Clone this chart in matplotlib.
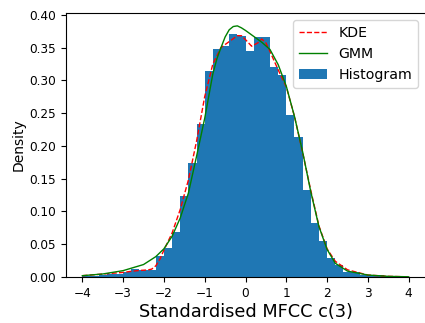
import numpy as np
import matplotlib
matplotlib.use("Agg")
import matplotlib.pyplot as plt

# histogram bins (left edges, width 0.2) and densities
bin_left = [-4.0, -3.8, -3.6, -3.4, -3.2, -3.0, -2.8, -2.6, -2.4, -2.2,
            -2.0, -1.8, -1.6, -1.4, -1.2, -1.0, -0.8, -0.6, -0.4, -0.2,
            0.0, 0.2, 0.4, 0.6, 0.8, 1.0, 1.2, 1.4, 1.6, 1.8,
            2.0, 2.2, 2.4, 2.6, 2.8, 3.0, 3.2, 3.4]
hist_density = [0.002, 0.002, 0.003, 0.004, 0.005, 0.007, 0.012, 0.011, 0.011, 0.032,
                0.044, 0.068, 0.123, 0.174, 0.233, 0.314, 0.347, 0.353, 0.371, 0.368,
                0.344, 0.366, 0.366, 0.321, 0.308, 0.247, 0.214, 0.133, 0.083, 0.055,
                0.029, 0.019, 0.008, 0.008, 0.003, 0.0025, 0.0025, 0.001]
bin_width = 0.2

# KDE curve
kde_x = [-4.0, -3.5, -3.0, -2.8, -2.6, -2.4, -2.3, -2.2, -2.1, -2.0, -1.8, -1.6,
         -1.4, -1.2, -1.0, -0.8, -0.6, -0.4, -0.2, -0.1, 0.0, 0.15, 0.3, 0.4,
         0.5, 0.6, 0.8, 1.0, 1.2, 1.4, 1.6, 1.8, 2.0, 2.2, 2.5, 3.0, 3.5, 4.0]
kde_y = [0.002, 0.0045, 0.007, 0.0087, 0.010, 0.0107, 0.012, 0.017, 0.027, 0.041, 0.067, 0.103,
         0.148, 0.207, 0.275, 0.325, 0.350, 0.359, 0.368, 0.368, 0.362, 0.352, 0.357, 0.363,
         0.357, 0.344, 0.316, 0.290, 0.245, 0.190, 0.132, 0.078, 0.043, 0.024, 0.011, 0.003, 0.001, 0.0003]

# GMM curve
gmm_x = [-4.0, -3.5, -3.0, -2.5, -2.2, -2.0, -1.8, -1.6, -1.4, -1.2, -1.0, -0.8,
         -0.7, -0.6, -0.5, -0.4, -0.3, -0.2, -0.1, 0.0, 0.2, 0.4, 0.6, 0.8,
         1.0, 1.2, 1.4, 1.6, 1.8, 2.0, 2.2, 2.5, 3.0, 3.5, 4.0]
gmm_y = [0.002, 0.0046, 0.0097, 0.019, 0.031, 0.043, 0.062, 0.090, 0.128, 0.184, 0.242, 0.310,
         0.333, 0.350, 0.366, 0.377, 0.382, 0.383, 0.380, 0.376, 0.367, 0.358, 0.347, 0.324,
         0.291, 0.245, 0.191, 0.130, 0.077, 0.042, 0.021, 0.009, 0.003, 0.001, 0.0003]

fig = plt.figure(figsize=(4.25, 3.23), dpi=100)
ax = fig.add_axes([0.1553, 0.1424, 0.8447, 0.8173])

ax.bar(bin_left, hist_density, width=bin_width, align='edge', color='C0', label='Histogram')
ax.plot(kde_x, kde_y, 'r--', lw=1, label='KDE')
ax.plot(gmm_x, gmm_y, color='green', lw=1, label='GMM')

# the right edge of the frame falls outside the saved picture
ax.spines['right'].set_visible(False)

ax.set_xlim(-4.4, 4.4)
ax.set_ylim(0, 0.4026)
ax.set_xticks(np.arange(-4, 5, 1))
ax.set_yticks(np.arange(0, 0.41, 0.05))
ax.set_yticklabels(['%.2f' % v for v in np.arange(0, 0.41, 0.05)])
ax.tick_params(labelsize=8.7)

ax.set_xlabel('Standardised MFCC c(3)', fontsize=12.8, labelpad=2)
ax.set_ylabel('Density', fontsize=10, labelpad=3)
ax.legend(loc='upper right', fontsize=10.2)

fig.savefig('out.png', dpi=100)
